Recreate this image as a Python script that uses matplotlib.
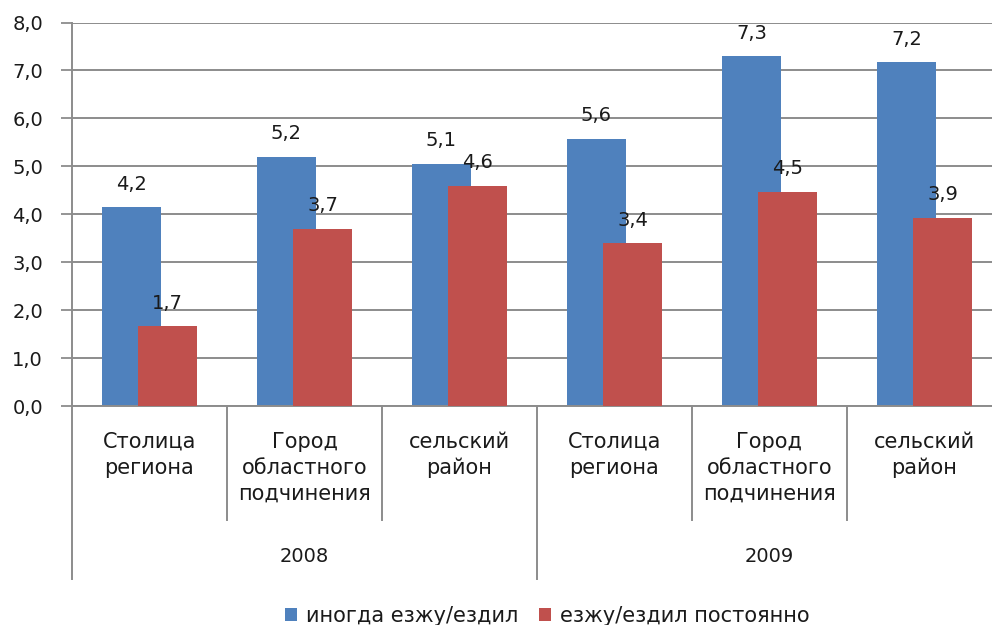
import matplotlib
matplotlib.use("Agg")
import matplotlib.pyplot as plt
import numpy as np

categories = ["Столица\nрегиона", "Город\nобластного\nподчинения", "сельский\nрайон",
              "Столица\nрегиона", "Город\nобластного\nподчинения", "сельский\nрайон"]
years = ["2008", "2009"]
series_names = ["иногда езжу/ездил", "езжу/ездил постоянно"]
sometimes = [4.15, 5.2, 5.05, 5.57, 7.3, 7.17]
constantly = [1.66, 3.7, 4.59, 3.39, 4.47, 3.93]
yticks = [0, 1, 2, 3, 4, 5, 6, 7, 8]

BLUE = "#4F81BD"
RED = "#C0504D"
GRID = "#8c8c8c"
TXT = "#1a1a1a"
FS = 14
FS_CAT = 15

fig = plt.figure(figsize=(9.92, 6.25), dpi=100)
W, H = 992, 625
x0, x1 = 72, 1002
y0, y1 = 406, 22.5
ax = fig.add_axes([x0 / W, 1 - y0 / H, (x1 - x0) / W, (y0 - y1) / H])
axh = y0 - y1

x = np.arange(len(categories))
bw = 0.385
off = 0.117
ax.bar(x - off, sometimes, bw, color=BLUE, zorder=2, label=series_names[0])
ax.bar(x + off, constantly, bw, color=RED, zorder=3, label=series_names[1])

def fmt(v):
    return f"{v + 1e-9:.1f}".replace(".", ",")

lab_off = 23 * 72 / 100
for xi, v in zip(x, sometimes):
    ax.annotate(fmt(v), (xi - off, v), xytext=(0, lab_off), textcoords="offset points",
                ha="center", va="center", fontsize=FS, color=TXT, zorder=5)
for xi, v in zip(x, constantly):
    ax.annotate(fmt(v), (xi + off, v), xytext=(0, lab_off), textcoords="offset points",
                ha="center", va="center", fontsize=FS, color=TXT, zorder=5)

ax.set_xlim(-0.5, len(categories) - 0.5)
ax.set_ylim(0, 8)
ax.set_yticks(yticks)
ax.set_yticklabels([f"{t:.1f}".replace(".", ",") for t in yticks], fontsize=FS, color=TXT)
ax.tick_params(axis="y", length=11 * 0.72, width=1.3, color=GRID, pad=18 * 0.72)
ax.set_xticks([])
ax.yaxis.grid(True, color=GRID, linewidth=1.4, zorder=0)
ax.set_axisbelow(True)
for s in ["top", "right"]:
    ax.spines[s].set_visible(False)
ax.spines["left"].set_color(GRID)
ax.spines["left"].set_linewidth(1.4)
ax.spines["bottom"].set_color(GRID)
ax.spines["bottom"].set_linewidth(1.4)

tr = ax.get_xaxis_transform()
cat_bottom = -(520 - y0) / axh
year_bottom = -(579 - y0) / axh
for b in [0.5, 1.5, 3.5, 4.5]:
    ax.plot([b, b], [0, cat_bottom], transform=tr, color=GRID, lw=1.4, clip_on=False)
for b in [-0.5, 2.5]:
    ax.plot([b, b], [0, year_bottom], transform=tr, color=GRID, lw=1.4, clip_on=False)

for xi, c in zip(x, categories):
    ax.text(xi, -(432 - y0) / axh, c,
            transform=tr, ha="center", va="top", fontsize=FS_CAT, color=TXT, linespacing=1.36)
for i, yr in enumerate(years):
    ax.text(1 + 3 * i, -(557 - y0) / axh, yr, transform=tr, ha="center", va="center",
            fontsize=FS, color=TXT)

fig.legend(loc="center", bbox_to_anchor=(547 / W, 1 - 616 / H), ncol=2, frameon=False,
           fontsize=FS_CAT, handlelength=0.6, handleheight=0.6, handletextpad=0.4,
           columnspacing=1.0, labelcolor=TXT)

fig.savefig("out.png", dpi=100)
